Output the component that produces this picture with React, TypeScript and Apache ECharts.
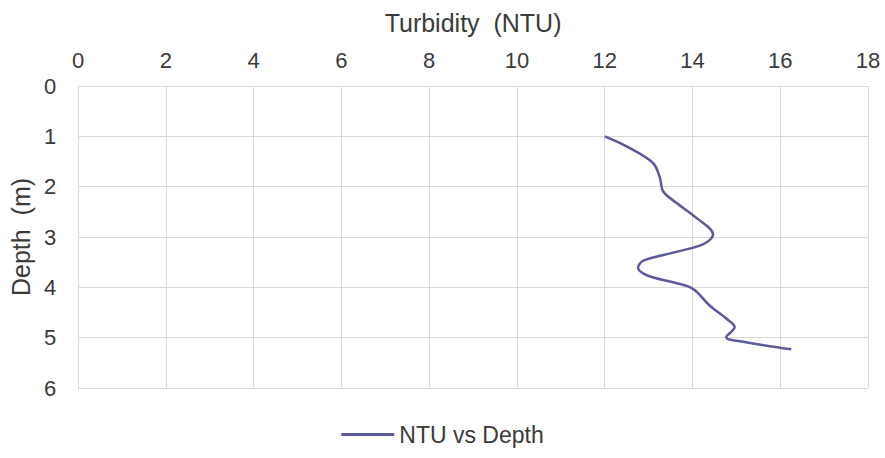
import React, { useEffect, useRef } from "react";
import * as echarts from "echarts";

const turbidity = [12.0, 12.5, 13.1, 13.26, 13.33, 13.63, 14.09, 14.47, 14.25, 13.56, 12.88, 12.76, 12.99, 13.56, 14.01, 14.39, 14.77, 14.96, 14.77, 15.22, 16.25];
const depth = [1.0, 1.2, 1.53, 1.83, 2.09, 2.32, 2.62, 2.95, 3.14, 3.31, 3.47, 3.61, 3.77, 3.9, 4.03, 4.36, 4.62, 4.79, 4.99, 5.09, 5.23];
const seriesName = "NTU vs Depth";

export default function App() {
  const ref = useRef<HTMLDivElement>(null);
  useEffect(() => {
    if (!ref.current) return;
    const chart = echarts.init(ref.current, undefined, { renderer: "svg" });
    const font = "Liberation Sans, Arial, sans-serif";
    const textColor = "#3a3a3a";
    chart.setOption({
      animation: false,
      backgroundColor: "#ffffff",
      textStyle: { fontFamily: font },
      grid: { left: 78, right: 17, top: 86, bottom: 70 },
      legend: {
        bottom: 7,
        left: "center",
        itemWidth: 53,
        itemHeight: 3,
        icon: "rect",
        textStyle: { fontFamily: font, fontSize: 23, color: textColor },
        data: [seriesName],
      },
      xAxis: {
        type: "value",
        position: "top",
        min: 0,
        max: 18,
        interval: 2,
        name: "Turbidity  (NTU)",
        nameLocation: "middle",
        nameGap: 51,
        nameTextStyle: { fontFamily: font, fontSize: 25, color: textColor },
        axisLine: { show: false },
        axisTick: { show: false },
        axisLabel: { margin: 15, fontSize: 22, color: textColor, fontFamily: font },
        splitLine: { show: true, lineStyle: { color: "#d9d9d9", width: 1 } },
      },
      yAxis: {
        type: "value",
        inverse: true,
        min: 0,
        max: 6,
        interval: 1,
        name: "Depth  (m)",
        nameLocation: "middle",
        nameGap: 45,
        nameTextStyle: { fontFamily: font, fontSize: 25, color: textColor },
        axisLine: { show: false },
        axisTick: { show: false },
        axisLabel: { margin: 22, fontSize: 22, color: textColor, fontFamily: font },
        splitLine: { show: true, lineStyle: { color: "#d9d9d9", width: 1 } },
      },
      series: [
        {
          name: seriesName,
          type: "line",
          data: turbidity.map((t, i) => [t, depth[i]]),
          smooth: 0.35,
          showSymbol: false,
          symbol: "none",
          lineStyle: { color: "#5b5b9b", width: 2.5 },
          itemStyle: { color: "#5b5b9b" },
        },
      ],
    });
    return () => chart.dispose();
  }, []);
  return (
    <div
      ref={ref}
      style={{ position: "fixed", left: 0, top: 0, width: 885, height: 458 }}
    />
  );
}
